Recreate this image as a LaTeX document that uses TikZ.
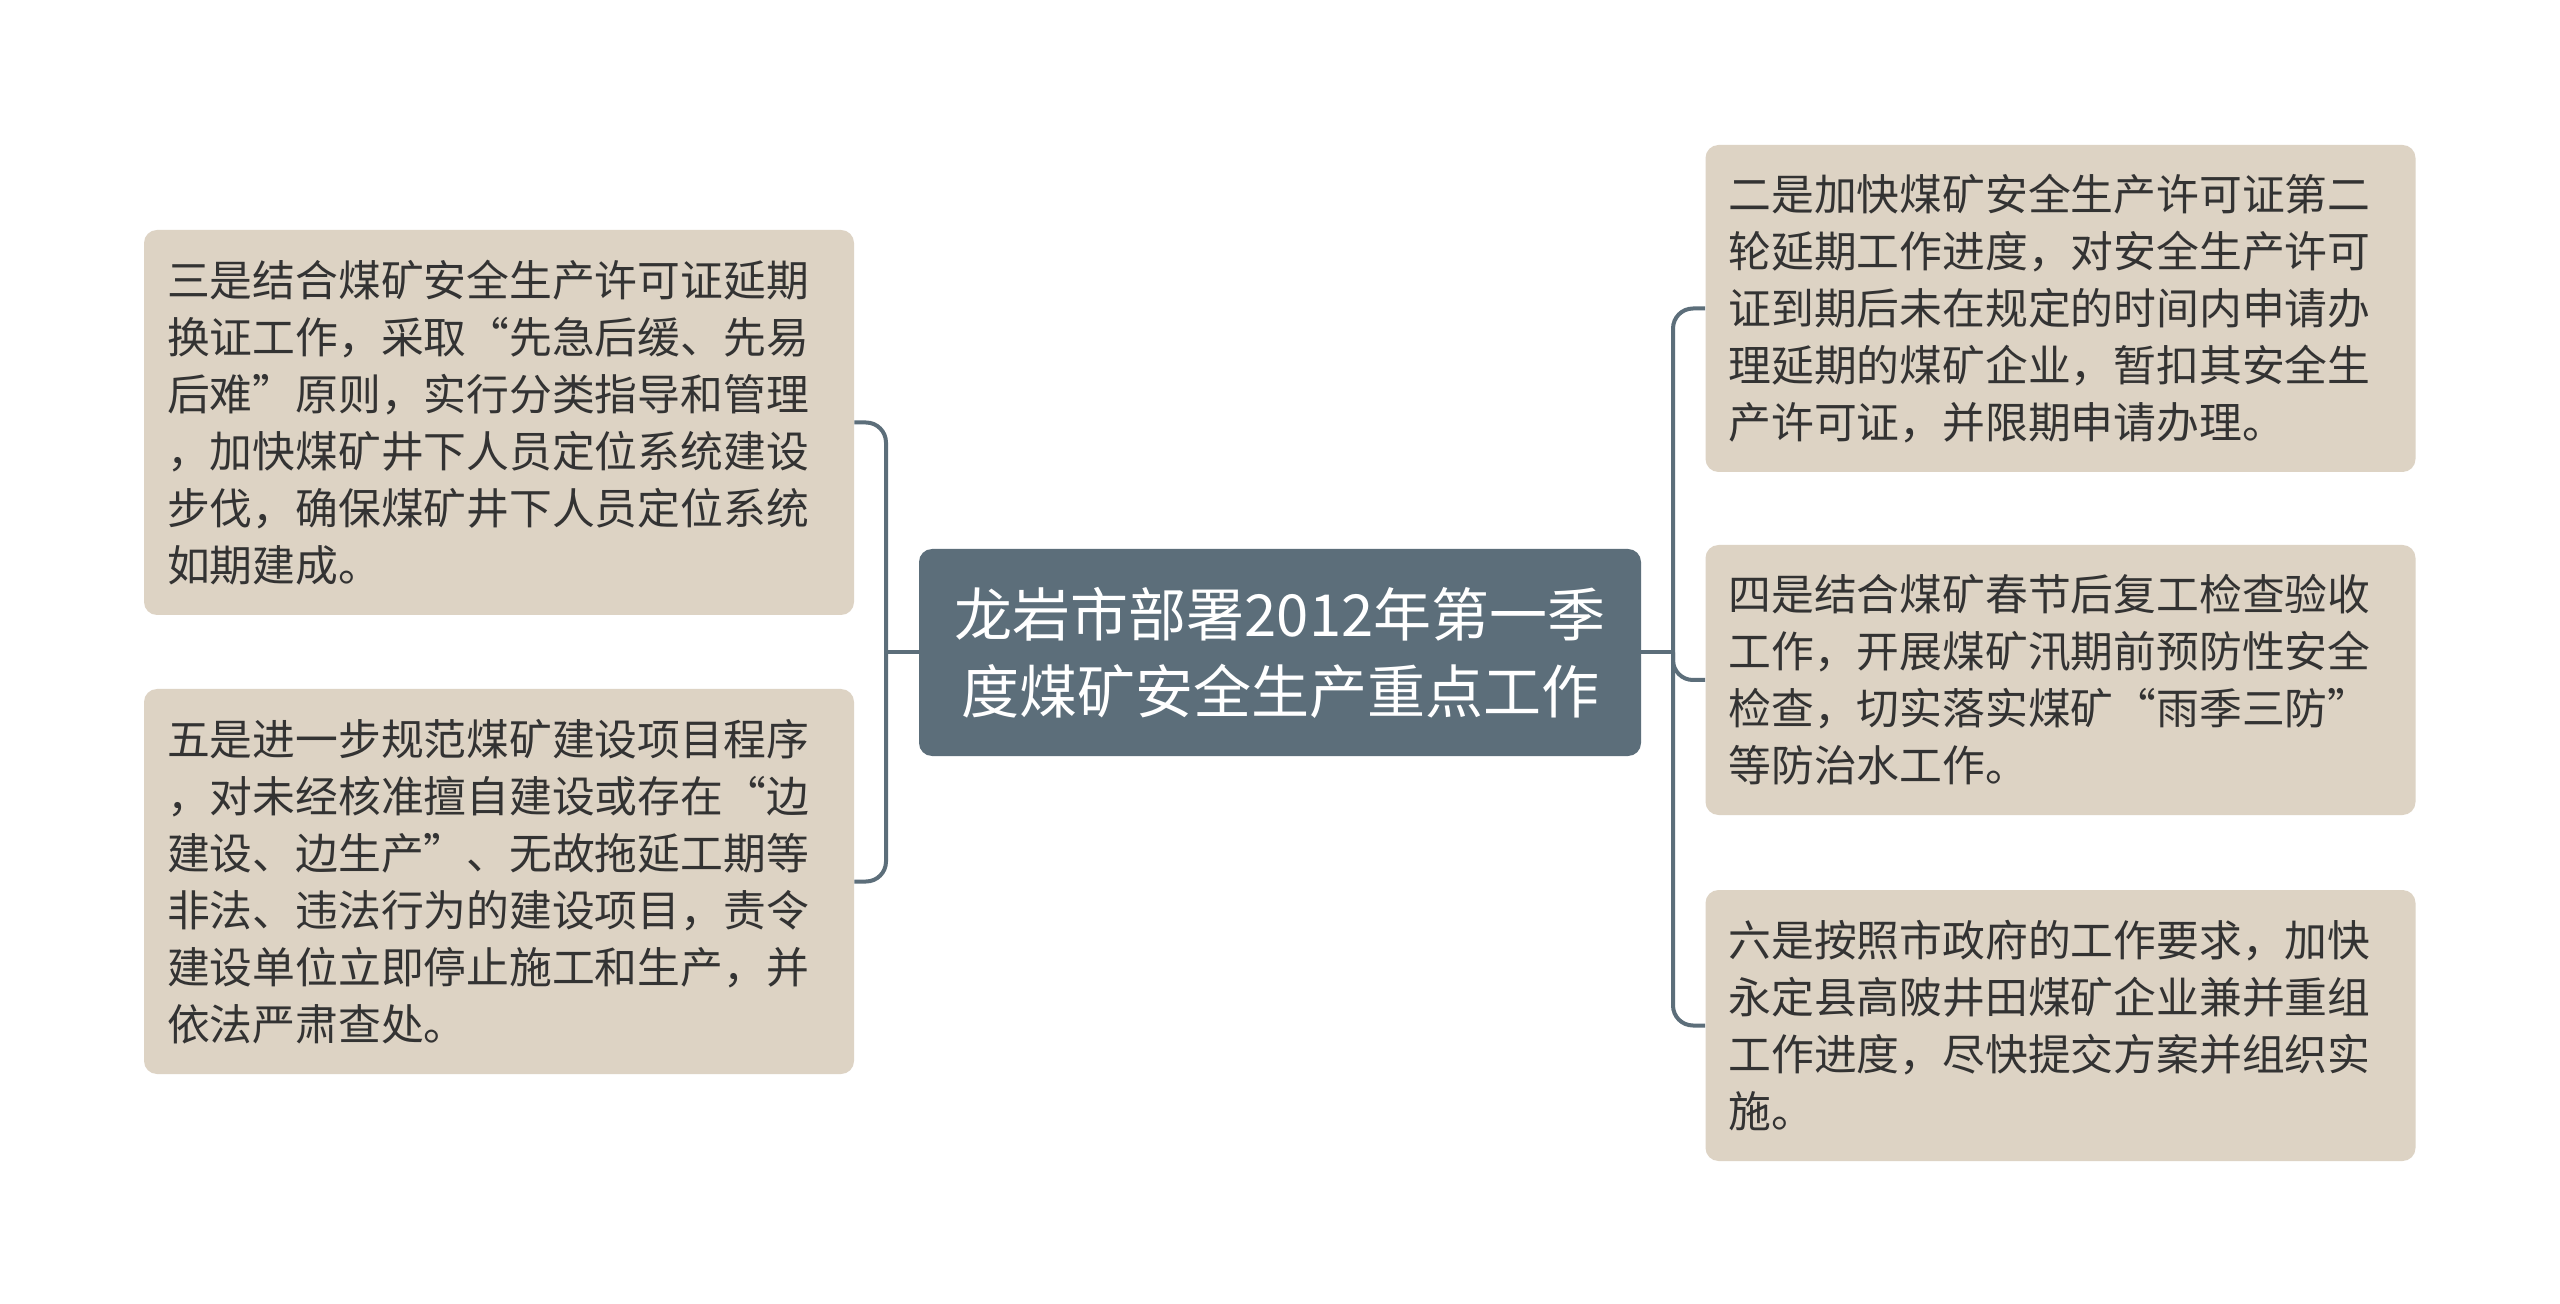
\documentclass[tikz,border=0pt]{standalone}
\usepackage{fontspec}
\setmainfont{Noto Sans CJK SC}
\definecolor{centerfill}{HTML}{5C6E7A}
\definecolor{leaffill}{HTML}{DDD3C4}
\definecolor{linecol}{HTML}{5C6E7A}
\definecolor{txt}{HTML}{333333}
\tikzset{
  leaf/.style={fill=leaffill, rounded corners=6.5pt, text=txt, align=left,
    text width=332pt, inner xsep=11.5pt, inner ysep=0pt, minimum width=355pt,
    font=\fontsize{21.4pt}{28.5pt}\selectfont},
  centerbox/.style={fill=centerfill, rounded corners=6.5pt, text=white, align=center,
    minimum width=361pt, minimum height=103.5pt, inner sep=0pt,
    font=\fontsize{29pt}{38.5pt}\selectfont},
  conn/.style={draw=linecol, line width=2pt, rounded corners=10pt}
}
\begin{document}
\begin{tikzpicture}[x=0.5pt,y=-0.5pt]
\useasboundingbox (0,0) rectangle (2560,1304);
\fill[white] (0,0) rectangle (2560,1304);

\node[centerbox] (C) at (1280,652.5) {龙岩市部署2012年第一季\\度煤矿安全生产重点工作};

\node[leaf, minimum height=192.5pt] (L1) at (499,422.5) {三是结合煤矿安全生产许可证延期\\换证工作，采取“先急后缓、先易\\后难”原则，实行分类指导和管理\\，加快煤矿井下人员定位系统建设\\步伐，确保煤矿井下人员定位系统\\如期建成。};

\node[leaf, minimum height=192.5pt] (L2) at (499,881.5) {五是进一步规范煤矿建设项目程序\\，对未经核准擅自建设或存在“边\\建设、边生产”、无故拖延工期等\\非法、违法行为的建设项目，责令\\建设单位立即停止施工和生产，并\\依法严肃查处。};

\node[leaf, minimum height=163.5pt] (R1) at (2060.5,308.5) {二是加快煤矿安全生产许可证第二\\轮延期工作进度，对安全生产许可\\证到期后未在规定的时间内申请办\\理延期的煤矿企业，暂扣其安全生\\产许可证，并限期申请办理。};

\node[leaf, minimum height=135pt] (R2) at (2060.5,680) {四是结合煤矿春节后复工检查验收\\工作，开展煤矿汛期前预防性安全\\检查，切实落实煤矿“雨季三防”\\等防治水工作。};

\node[leaf, minimum height=135.5pt] (R3) at (2060.5,1025.5) {六是按照市政府的工作要求，加快\\永定县高陂井田煤矿企业兼并重组\\工作进度，尽快提交方案并组织实\\施。};

\coordinate (lx) at (886,652.5);
\coordinate (rx) at (1673,652.5);

\draw[conn] (L1.east) -- (L1.east -| lx) -- (L2.east -| lx) -- (L2.east);
\draw[conn] (C.west) -- (lx);
\draw[conn] (R1.west) -- (R1.west -| rx) -- (R3.west -| rx) -- (R3.west);
\draw[conn] (C.east) -- (rx);
\draw[conn] (rx) -- (R2.west -| rx) -- (R2.west);
\end{tikzpicture}
\end{document}
